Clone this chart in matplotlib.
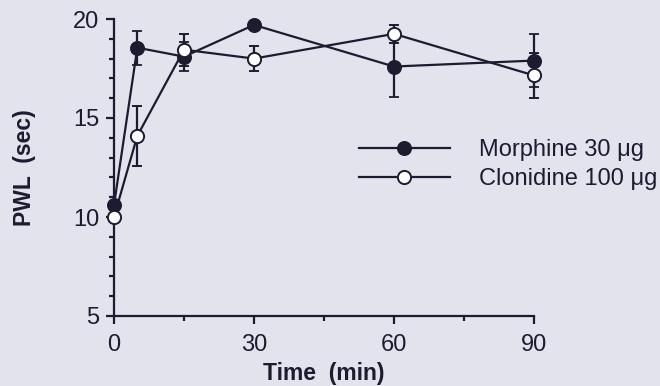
import matplotlib
matplotlib.use("Agg")
import matplotlib.pyplot as plt
from matplotlib.ticker import MultipleLocator

plt.rcParams['font.family'] = ['Liberation Sans', 'DejaVu Sans']

# data
time_min = [0, 5, 15, 30, 60, 90]
morphine = [10.6, 18.55, 18.1, 19.7, 17.6, 17.9]
morphine_err = [0.15, 0.85, 0.75, 0.15, 1.55, 1.35]
clonidine = [10.0, 14.1, 18.45, 18.0, 19.25, 17.15]
clonidine_err = [0.1, 1.5, 0.8, 0.65, 0.45, 1.15]

bg = '#e3e3ed'
ink = '#1c1c30'

fig = plt.figure(figsize=(6.6, 3.86), dpi=100, facecolor=bg)
ax = fig.add_axes([114 / 660, 1 - 316 / 386, 420 / 660, 297 / 386])
ax.set_facecolor(bg)

ax.errorbar(time_min, morphine, yerr=morphine_err, color=ink, lw=1.6,
            marker='o', ms=9.5, mfc=ink, mec=ink, mew=1.3,
            capsize=3.5, elinewidth=1.6, capthick=1.6,
            clip_on=False, zorder=3, label='Morphine 30 \u03bcg')
ax.errorbar(time_min, clonidine, yerr=clonidine_err, color=ink, lw=1.6,
            marker='o', ms=9.5, mfc='white', mec=ink, mew=1.4,
            capsize=3.5, elinewidth=1.6, capthick=1.6,
            clip_on=False, zorder=4, label='Clonidine 100 \u03bcg')

ax.set_xlim(0, 90)
ax.set_ylim(5, 20)
ax.set_xticks([0, 30, 60, 90])
ax.xaxis.set_minor_locator(MultipleLocator(15))
ax.set_yticks([5, 10, 15, 20])
ax.yaxis.set_minor_locator(MultipleLocator(1))

for s in ['top', 'right']:
    ax.spines[s].set_visible(False)
for s in ['left', 'bottom']:
    ax.spines[s].set_linewidth(1.6)
    ax.spines[s].set_color(ink)

ax.tick_params(which='major', length=5.5, width=1.6, color=ink,
               labelsize=17, labelcolor=ink, pad=5)
ax.tick_params(axis='x', which='major', pad=7.5)
ax.tick_params(which='minor', length=3.5, width=1.6, color=ink)

ax.set_xlabel('Time  (min)', fontsize=16.5, fontweight='bold', color=ink, labelpad=4)
ax.set_ylabel('PWL  (sec)', fontsize=16.5, fontweight='bold', color=ink, labelpad=27)

h, l = ax.get_legend_handles_labels()
h = [x[0] for x in h]
leg = fig.legend(h, l, loc='upper left', bbox_to_anchor=(359 / 660, 1 - 139 / 386),
                 frameon=False, fontsize=17, handlelength=3.85, handletextpad=1.25,
                 labelspacing=0.3, borderpad=0, borderaxespad=0, markerscale=1.0)
for t in leg.get_texts():
    t.set_color(ink)

fig.savefig('out.png', dpi=100, facecolor=bg)
